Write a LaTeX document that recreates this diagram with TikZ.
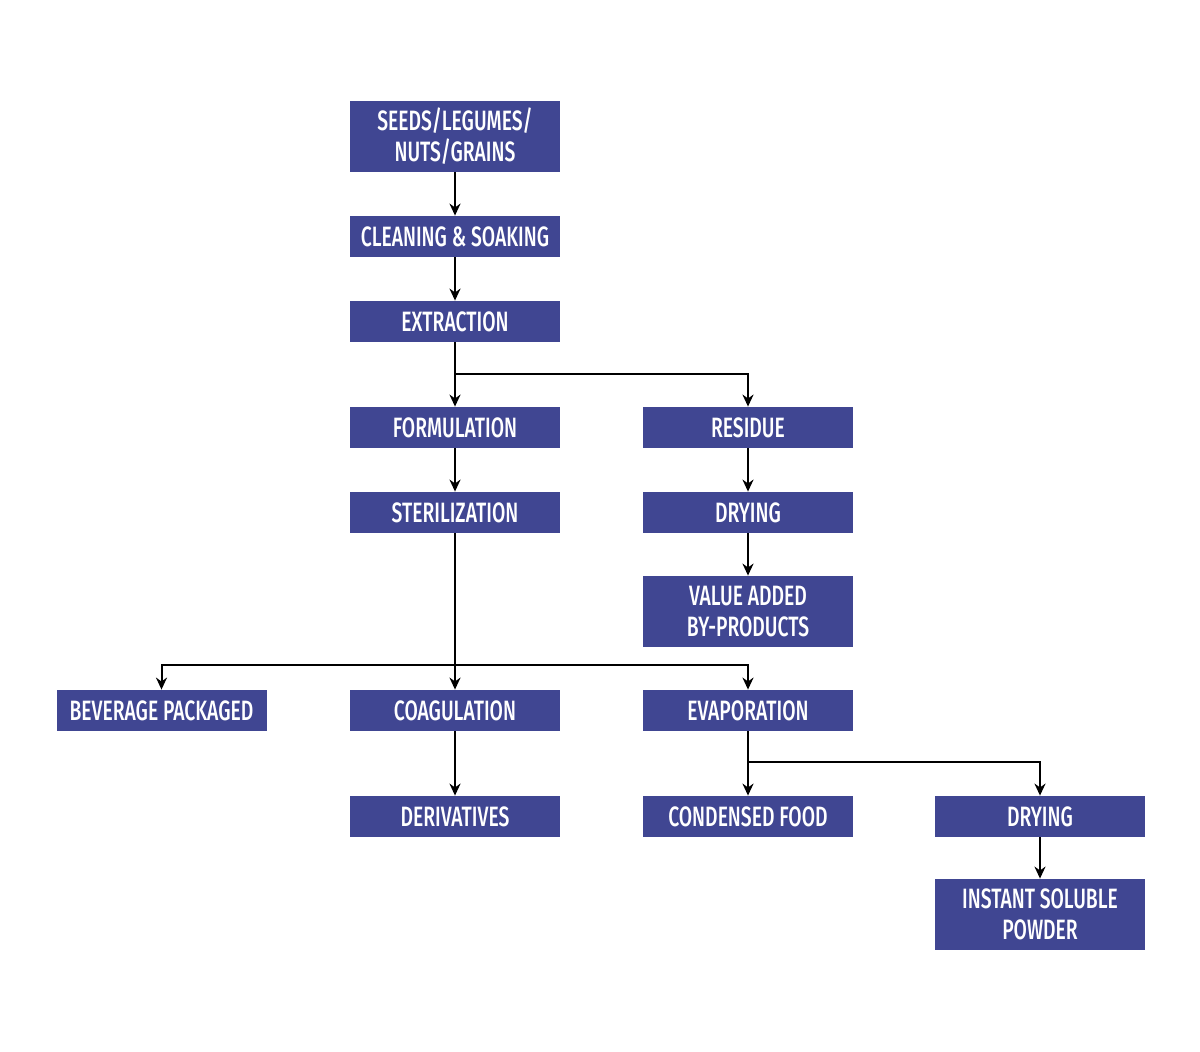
\documentclass[tikz,border=0pt]{standalone}
\usepackage{fontspec}
\setmainfont[FakeStretch=0.69]{Fira Sans Medium}
\usetikzlibrary{arrows.meta}
\definecolor{boxblue}{RGB}{64,70,146}
\begin{document}
\begin{tikzpicture}[x=0.5pt,y=-0.5pt,
  box/.style={fill=boxblue,text=white,minimum width=105pt,minimum height=20.5pt,inner sep=0pt,align=center,font=\fontsize{14}{15.5}\selectfont},
  tall/.style={box,minimum height=35.5pt},
  conn/.style={draw=black,line width=1pt,-{Stealth[length=6pt,width=5.5pt]}},
  plain/.style={draw=black,line width=1pt}]
\useasboundingbox (0,0) rectangle (1200,1052);
\node[tall] (seeds) at (455,136.5) {SEEDS/LEGUMES/\\NUTS/GRAINS};
\node[box] (clean) at (455,236.5) {CLEANING \& SOAKING};
\node[box] (extr) at (455,321.5) {EXTRACTION};
\node[box] (form) at (455,427.5) {FORMULATION};
\node[box] (resid) at (748,427.5) {RESIDUE};
\node[box] (steril) at (455,512.5) {STERILIZATION};
\node[box] (dry1) at (748,512.5) {DRYING};
\node[tall] (value) at (748,611.5) {VALUE ADDED\\BY-PRODUCTS};
\node[box] (bev) at (161.5,710.5) {BEVERAGE PACKAGED};
\node[box] (coag) at (455,710.5) {COAGULATION};
\node[box] (evap) at (748,710.5) {EVAPORATION};
\node[box] (deriv) at (455,816.5) {DERIVATIVES};
\node[box] (cond) at (748,816.5) {CONDENSED FOOD};
\node[box] (dry2) at (1040,816.5) {DRYING};
\node[tall] (inst) at (1040,914.5) {INSTANT SOLUBLE\\POWDER};
\coordinate (b1) at (455,374);
\coordinate (b2) at (455,665);
\coordinate (b3) at (748,762);
\draw[conn] (seeds) -- (clean);
\draw[conn] (clean) -- (extr);
\draw[conn] (extr) -- (form);
\draw[conn] (b1) -| (resid);
\draw[conn] (form) -- (steril);
\draw[conn] (resid) -- (dry1);
\draw[conn] (dry1) -- (value);
\draw[conn] (steril) -- (coag);
\draw[conn] (b2) -| (bev);
\draw[conn] (b2) -| (evap);
\draw[conn] (coag) -- (deriv);
\draw[conn] (evap) -- (cond);
\draw[conn] (b3) -| (dry2);
\draw[conn] (dry2) -- (inst);
\end{tikzpicture}
\end{document}
